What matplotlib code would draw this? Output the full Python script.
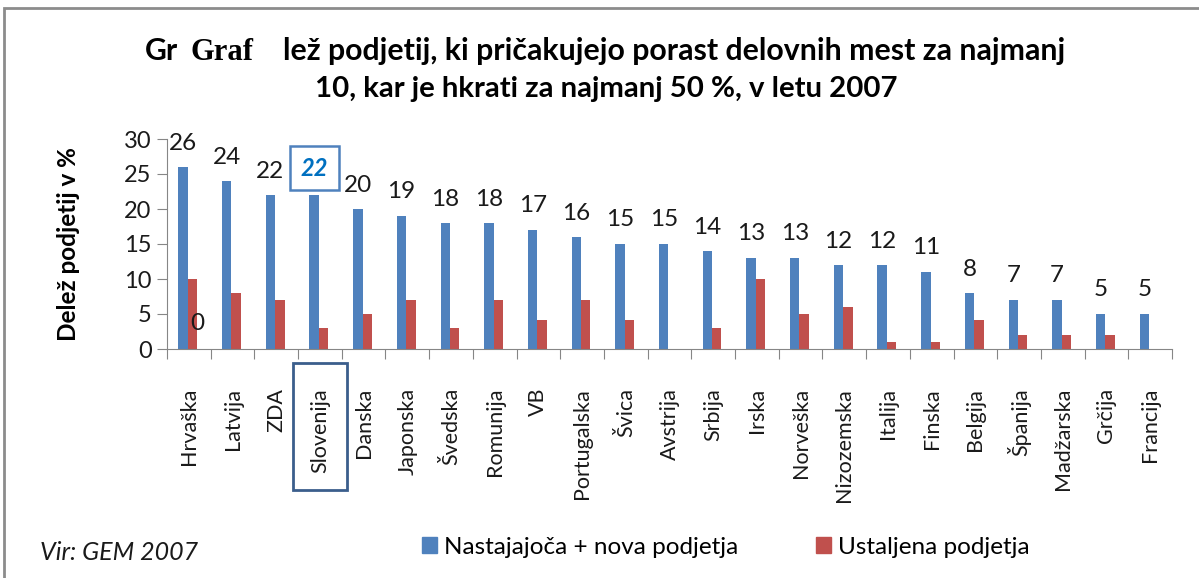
import matplotlib
matplotlib.use('Agg')
import matplotlib.pyplot as plt
import numpy as np
from matplotlib.patches import Rectangle, Patch

drzave = ['Hrvaška', 'Latvija', 'ZDA', 'Slovenija', 'Danska', 'Japonska', 'Švedska',
          'Romunija', 'VB', 'Portugalska', 'Švica', 'Avstrija', 'Srbija', 'Irska',
          'Norveška', 'Nizozemska', 'Italija', 'Finska', 'Belgija', 'Španija',
          'Madžarska', 'Grčija', 'Francija']
nova = [26, 24, 22, 22, 20, 19, 18, 18, 17, 16, 15, 15, 14, 13, 13, 12, 12, 11, 8, 7, 7, 5, 5]
ustaljena = [10, 8, 7, 3, 5, 7, 3, 7, 4.2, 7, 4.1, 0, 3, 10, 5, 6, 1, 1, 4.1, 2, 2, 2, 0]
yticks = [0, 5, 10, 15, 20, 25, 30]

modra = '#4F81BD'
rdeca = '#C0504D'
siva = '#868686'
pisava = 'Lato'

W, H = 1199, 578
fig = plt.figure(figsize=(W / 100, H / 100), dpi=100)
fig.patch.set_facecolor('white')

# siv okvir okrog grafa (desno in spodaj odrezan)
fig.patches.append(Rectangle((4 / W, -0.1), 1.2, 1 - 8 / H + 0.1, transform=fig.transFigure,
                             fill=False, edgecolor='#8c8c8c', lw=2))

ax = fig.add_axes([167 / W, 1 - 349 / H, (1172 - 167) / W, (349 - 139) / H])
x = np.arange(len(drzave))
sir = 0.215
ax.bar(x - 0.24 + sir / 2, nova, sir, color=modra)
ax.bar(x - 0.24 + sir * 1.5, ustaljena, sir, color=rdeca)
ax.set_xlim(-0.5, len(drzave) - 0.5)
ax.set_ylim(0, 30)
ax.set_yticks(yticks)
ax.set_yticklabels([str(v) for v in yticks], fontsize=17, family=pisava, color='#1a1a1a')
ax.set_xticks(np.arange(len(drzave) + 1) - 0.5, minor=False)
ax.set_xticklabels([])
ax.set_xticks(x, minor=True)
ax.set_xticklabels(drzave, minor=True, rotation=90, fontsize=15.5, family=pisava, color='#1a1a1a')
ax.tick_params(axis='x', which='minor', length=0, pad=28)
ax.tick_params(axis='x', which='major', length=7, color=siva, direction='out')
ax.tick_params(axis='y', length=7, color=siva, pad=4)
for s in ['top', 'right']:
    ax.spines[s].set_visible(False)
for s in ['left', 'bottom']:
    ax.spines[s].set_color(siva)
ax.set_ylabel('Delež podjetij v %', fontsize=17.5, fontweight='bold', family=pisava)
ax.yaxis.set_label_coords(-0.087, 0.5)

for i, v in enumerate(nova):
    if drzave[i] == 'Slovenija':
        ax.annotate(str(v), (x[i] - 0.24 + sir / 2, v), xytext=(0, 27), textcoords='offset pixels',
                    ha='center', va='center', fontsize=17, color='#0070C0',
                    fontweight='bold', fontstyle='italic', family=pisava,
                    bbox=dict(boxstyle='square,pad=0.45', fc='white', ec=modra, lw=1.8))
    else:
        ax.annotate(str(v), (x[i] - 0.24 + sir / 2, v), xytext=(0, 24), textcoords='offset pixels',
                    ha='center', va='center', fontsize=17.5, family=pisava, color='#1a1a1a')
ax.text(0.2, 3.7, '0', ha='center', va='center', fontsize=17.5, family=pisava, color='#1a1a1a')

# okvir okrog oznake Slovenija
fig.patches.append(Rectangle((293 / W, 1 - 490 / H), 54 / W, 127 / H, transform=fig.transFigure,
                             fill=False, edgecolor='#3B5E8C', lw=2))

# naslov
fig.canvas.draw()
rend = fig.canvas.get_renderer()


def napis(txt, x0, x1, yb, **kw):
    t = fig.text(x0 / W, 1 - yb / H, txt, ha='left', va='baseline', fontsize=20, **kw)
    w = t.get_window_extent(rend).width
    t.set_fontsize(20 * (x1 - x0) / w)
    return t


vrstica = napis('lež podjetij, ki pričakujejo porast delovnih mest za najmanj', 283, 1065, 60,
                family=pisava, fontweight='bold')
fig.text(145 / W, 1 - 60 / H, 'Gr', ha='left', va='baseline', fontsize=vrstica.get_fontsize(),
         family=pisava, fontweight='bold')
fig.text(190 / W, 1 - 60 / H, 'Graf', ha='left', va='baseline', fontsize=22,
         family='Liberation Serif', fontweight='bold')
napis('10, kar je hkrati za najmanj 50 %, v letu 2007', 315, 900, 97,
      family=pisava, fontweight='bold')

fig.text(40 / W, 1 - 553 / H, 'Vir: GEM 2007', fontsize=18, fontstyle='italic', family=pisava,
         va='center', ha='left', color='#1a1a1a')

roc = [Patch(color=modra), Patch(color=rdeca)]
fig.legend(roc, ['Nastajajoča + nova podjetja', 'Ustaljena podjetja'], loc='center',
           bbox_to_anchor=(726 / W, 1 - 547 / H), ncol=2, frameon=False,
           prop={'family': pisava, 'size': 17.5}, handlelength=0.6, handleheight=0.6,
           handletextpad=0.3, columnspacing=3.2)

fig.savefig('out.png', dpi=100)
